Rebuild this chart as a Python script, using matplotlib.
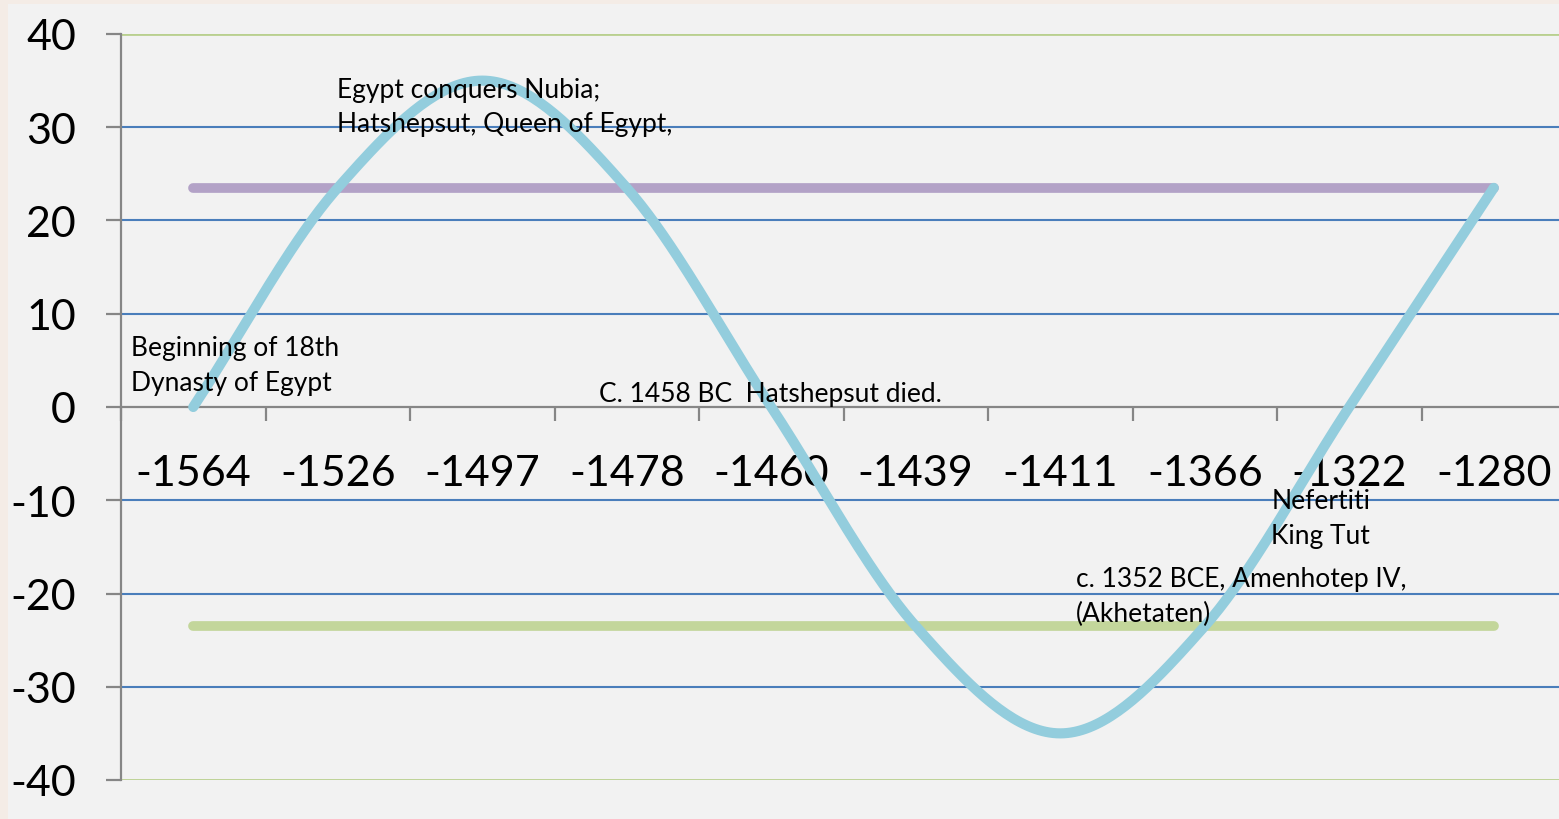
import numpy as np
import matplotlib
matplotlib.use("Agg")
import matplotlib.pyplot as plt
from matplotlib.patches import Rectangle

# ---- data ----
categories = ["-1564", "-1526", "-1497", "-1478", "-1460", "-1439", "-1411", "-1366", "-1322", "-1280"]
declination = [0, 23.5, 35, 23.5, 0, -23.5, -35, -23.5, 0, 23.5]
tropic_north = [23.5] * 10
tropic_south = [-23.5] * 10
y_ticks = [40, 30, 20, 10, 0, -10, -20, -30, -40]

annotations = [
    ("Beginning of 18th\nDynasty of Egypt", -0.43, 4.5),
    ("Egypt conquers Nubia;\nHatshepsut, Queen of Egypt,", 0.997, 32.25),
    ("C. 1458 BC  Hatshepsut died.", 2.81, 1.5),
    ("Nefertiti\nKing Tut", 7.46, -11.9),
    ("c. 1352 BCE, Amenhotep IV,\n(Akhetaten)", 6.11, -20.27),
]

FONT = "Lato"


def catmull_rom(xs, ys, n=40):
    xs = np.asarray(xs, float)
    ys = np.asarray(ys, float)
    px = np.concatenate([[2 * xs[0] - xs[1]], xs, [2 * xs[-1] - xs[-2]]])
    py = np.concatenate([[2 * ys[0] - ys[1]], ys, [2 * ys[-1] - ys[-2]]])
    ox, oy = [], []
    for i in range(1, len(px) - 2):
        t = np.linspace(0, 1, n, endpoint=False)
        for p, o in ((px, ox), (py, oy)):
            p0, p1, p2, p3 = p[i - 1], p[i], p[i + 1], p[i + 2]
            v = 0.5 * ((2 * p1) + (-p0 + p2) * t + (2 * p0 - 5 * p1 + 4 * p2 - p3) * t ** 2
                       + (-p0 + 3 * p1 - 3 * p2 + p3) * t ** 3)
            o.extend(v)
    ox.append(xs[-1])
    oy.append(ys[-1])
    return np.array(ox), np.array(oy)


W, H = 1559, 820
fig = plt.figure(figsize=(W / 100, H / 100), dpi=100)
fig.patch.set_facecolor("#f4ece6")
fig.patches.append(Rectangle((8 / W, 0), 1, 1 - 5 / H, transform=fig.transFigure,
                             facecolor="#f2f2f2", edgecolor="none", zorder=-5))

ax = fig.add_axes([121 / W, (H - 781) / H, 1445 / W, 746 / H])
ax.set_zorder(2)
ax.set_facecolor("none")
ax.set_xlim(-0.5, 9.5)
ax.set_ylim(-40, 40)

# gridlines
for v in y_ticks:
    if v in (40, -40):
        ax.axhline(v, color="#b9d08f", lw=2.0, zorder=1)
    elif v != 0:
        ax.axhline(v, color="#4a7ebb", lw=1.5, zorder=1)

x = np.arange(len(categories))
ax.plot(x, tropic_north, color="#b3a2c7", lw=7, solid_capstyle="round", zorder=3)
ax.plot(x, tropic_south, color="#c3d69b", lw=7, solid_capstyle="round", zorder=3)
sx, sy = catmull_rom(x, declination)
ax.plot(sx, sy, color="#93cddd", lw=7.3, solid_capstyle="round", zorder=4)

# spines
for s in ("top", "right"):
    ax.spines[s].set_visible(False)
ax.spines["left"].set_color("#868686")
ax.spines["left"].set_linewidth(1.6)
ax.spines["bottom"].set_position(("data", 0))
ax.spines["bottom"].set_color("#868686")
ax.spines["bottom"].set_linewidth(1.6)
ax.spines["left"].set_zorder(2)
ax.spines["bottom"].set_zorder(2)

ax.set_yticks(y_ticks)
ax.set_yticklabels([str(v) for v in y_ticks], fontfamily=FONT, fontsize=31)
ax.tick_params(axis="y", direction="out", length=11, width=1.6, color="#868686", pad=21.5)

ax.set_xticks(x)
ax.set_xticklabels(categories, fontfamily=FONT, fontsize=31)
ax.set_xticks(np.arange(-0.5, 9.5, 1), minor=True)
ax.tick_params(axis="x", which="major", length=0, pad=34)
ax.tick_params(axis="x", which="minor", direction="out", length=10, width=1.6, color="#868686")

for txt, tx, ty in annotations:
    ax.text(tx, ty, txt, fontfamily=FONT, fontsize=19, ha="left", va="center",
            linespacing=1.47, zorder=5, color="black")

fig.savefig("out.png", dpi=100, facecolor=fig.get_facecolor())
